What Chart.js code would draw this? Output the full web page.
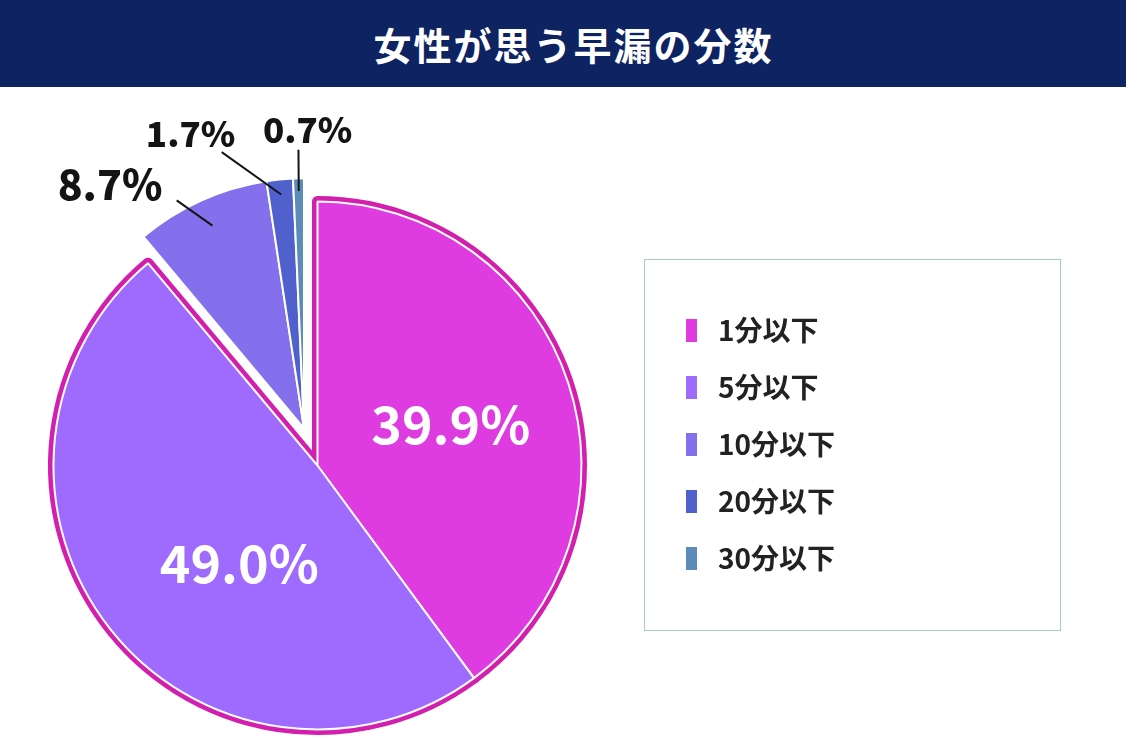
<!DOCTYPE html>
<html><head><meta charset="utf-8">
<script src="https://cdn.jsdelivr.net/npm/chart.js@4.4.0/dist/chart.umd.min.js"></script>
<style>
html,body{margin:0;padding:0;background:#fff;width:1126px;height:755px;overflow:hidden;font-family:"Noto Sans CJK JP",sans-serif;}
#title{position:absolute;left:0;top:0;width:1105px;padding-left:21px;height:87px;background:#0e2361;color:#fff;font-weight:bold;font-size:38px;line-height:87px;text-align:center;letter-spacing:2px;}
#wrap{position:absolute;left:-15px;top:87px;width:1141px;height:668px;}
#legendFrame{position:absolute;left:644px;top:259px;width:415px;height:370px;border:1px solid #a8caca;}
</style></head>
<body>
<div id="title">女性が思う早漏の分数</div>
<div id="legendFrame"></div>
<div id="wrap"><canvas id="c" width="1141" height="668"></canvas></div>
<script>
// ---- data ----
const categories = ['1分以下', '5分以下', '10分以下', '20分以下', '30分以下'];
const values = [39.9, 49.0, 8.7, 1.7, 0.7];
const valueLabels = ['39.9%', '49.0%', '8.7%', '1.7%', '0.7%'];

// ---- styles ----
const sliceColors = ['#de3ce0', '#9e6bfe', '#8470ec', '#5060cc', '#5b8bb8'];
const outlineColor = '#d21fae';
const highlighted = [true, true, false, false, false];
const mainRadius = 264;
const smallRadius = 250;
const groupShift = 39.5;
// label placement: angle fraction within slice, radius fraction, line offset, text offset
const labelStyle = [
  {inside: true, af: 0.508, rf: 0.528, size: 52, color: '#ffffff', weight: 'bold'},
  {inside: true, af: 0.426, rf: 0.473, size: 52, color: '#ffffff', weight: 'bold'},
  {inside: false, af: 0.5, rf: 0.89, line: [-35.7, -25.2], text: [-102.4, -40.7], size: 41, color: '#141414', weight: '900'},
  {inside: false, af: 0.5, rf: 0.94, line: [-59.4, -42.4], text: [-90.6, -60.4], size: 35, color: '#141414', weight: '900'},
  {inside: false, af: 0.5, rf: 0.95, line: [-0.3, -41.3], text: [8.9, -61.6], size: 35, color: '#141414', weight: '900'}
];
const FONT = '"Noto Sans CJK JP", "Noto Sans", sans-serif';

function swatch(color) {
  const c = document.createElement('canvas');
  c.width = 11; c.height = 23;
  const g = c.getContext('2d');
  g.fillStyle = color; g.fillRect(0, 0, 11, 23);
  return c;
}

const groupPlugin = {
  id: 'groupPlugin',
  afterDatasetsUpdate(chart) {
    const arcs = chart.getDatasetMeta(0).data;
    const small = arcs.filter((a, i) => !highlighted[i]);
    if (!small.length) return;
    const mid = (small[0].startAngle + small[small.length - 1].endAngle) / 2;
    const dx = Math.cos(mid) * groupShift, dy = Math.sin(mid) * groupShift;
    arcs.forEach((a, i) => {
      if (!highlighted[i]) { a.x += dx; a.y += dy; a.outerRadius = smallRadius; }
    });
  },
  beforeDatasetsDraw(chart) {
    const ctx = chart.ctx;
    const arcs = chart.getDatasetMeta(0).data;
    ctx.save();
    ctx.strokeStyle = outlineColor;
    ctx.lineWidth = 11;
    ctx.lineJoin = 'round';
    arcs.forEach((a, i) => {
      if (!highlighted[i]) return;
      ctx.beginPath();
      ctx.moveTo(a.x, a.y);
      ctx.arc(a.x, a.y, a.outerRadius, a.startAngle, a.endAngle);
      ctx.closePath();
      ctx.stroke();
    });
    ctx.restore();
  },
  afterDatasetsDraw(chart) {
    const ctx = chart.ctx;
    const arcs = chart.getDatasetMeta(0).data;
    ctx.save();
    ctx.textAlign = 'center';
    ctx.textBaseline = 'middle';
    arcs.forEach((a, i) => {
      const s = labelStyle[i];
      const ang = a.startAngle + s.af * (a.endAngle - a.startAngle);
      const r = s.rf * a.outerRadius;
      const ax = a.x + Math.cos(ang) * r, ay = a.y + Math.sin(ang) * r;
      ctx.font = s.weight + ' ' + s.size + 'px ' + FONT;
      ctx.fillStyle = s.color;
      if (s.inside) {
        ctx.fillText(valueLabels[i], ax, ay);
      } else {
        ctx.strokeStyle = '#141414';
        ctx.lineWidth = 2;
        ctx.beginPath();
        ctx.moveTo(ax + s.line[0], ay + s.line[1]);
        ctx.lineTo(ax, ay);
        ctx.stroke();
        ctx.fillText(valueLabels[i], ax + s.text[0], ay + s.text[1]);
      }
    });
    ctx.restore();
  }
};

new Chart(document.getElementById('c'), {
  type: 'pie',
  data: {
    labels: categories,
    datasets: [{
      data: values,
      backgroundColor: sliceColors,
      borderColor: '#ffffff',
      borderWidth: 2,
      radius: mainRadius,
      clip: false
    }]
  },
  options: {
    responsive: false,
    devicePixelRatio: 1,
    animation: false,
    events: [],
    layout: {padding: {left: 0, top: 200.5, bottom: 111.5, right: 281}},
    plugins: {
      tooltip: {enabled: false},
      title: {display: false},
      legend: {
        display: true,
        position: 'right',
        align: 'start',
        labels: {
          usePointStyle: true,
          pointStyleWidth: 25,
          padding: 29,
          color: '#222222',
          font: {family: FONT, size: 28, weight: 'bold'},
          generateLabels(chart) {
            return chart.data.labels.map((t, i) => ({
              text: t,
              fillStyle: sliceColors[i],
              strokeStyle: sliceColors[i],
              lineWidth: 0,
              pointStyle: swatch(sliceColors[i]),
              hidden: false,
              index: i,
              fontColor: '#222222'
            }));
          }
        }
      }
    }
  },
  plugins: [groupPlugin]
});
</script>
</body></html>
